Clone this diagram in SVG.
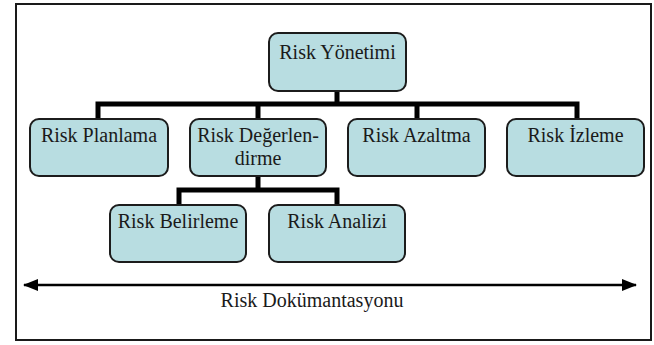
<svg xmlns="http://www.w3.org/2000/svg" width="654" height="345" viewBox="0 0 654 345">
  <style>
    .box { fill: #b8dde1; stroke: #1c1c1c; stroke-width: 2; }
    .lbl { font-family: "Liberation Serif", "Times New Roman", serif; font-size: 20px; fill: #1a1a1a; text-anchor: middle; }
    .bar { fill: none; stroke: #000; stroke-width: 5; stroke-linecap: butt; }
    .frame { fill: #fff; stroke: #1a1a1a; stroke-width: 2; }
  </style>
  <defs>
    <marker id="head" viewBox="0 0 15 12" refX="14" refY="6" markerWidth="15" markerHeight="12" markerUnits="userSpaceOnUse" orient="auto-start-reverse">
      <path d="M0,0 L15,6 L0,12 Z" fill="#000"/>
    </marker>
  </defs>

  <rect class="frame" x="16" y="4" width="635" height="336"/>

  <!-- tree connectors -->
  <g id="connectors">
    <path class="bar" d="M337,91 V104 M98,120 V104 H577 V120 M258,104 V120 M417,104 V120"/>
    <path class="bar" d="M258,176 V190 M179,206 V190 H337 V206"/>
    <line x1="24" y1="285" x2="636" y2="285" stroke="#000" stroke-width="2.5" marker-start="url(#head)" marker-end="url(#head)"/>
  </g>

  <g id="risk-yonetimi">
    <rect class="box" x="269" y="33" width="137" height="58" rx="9"/>
    <text class="lbl" x="337.5" y="59">Risk Yönetimi</text>
  </g>
  <g id="risk-planlama">
    <rect class="box" x="30" y="119" width="138" height="57" rx="9"/>
    <text class="lbl" x="99" y="142">Risk Planlama</text>
  </g>
  <g id="risk-degerlendirme">
    <rect class="box" x="190" y="119" width="136" height="57" rx="9"/>
    <text class="lbl" x="258" y="142">Risk Değerlen-</text>
    <text class="lbl" x="258" y="165">dirme</text>
  </g>
  <g id="risk-azaltma">
    <rect class="box" x="348" y="119" width="137" height="57" rx="9"/>
    <text class="lbl" x="416.5" y="142">Risk Azaltma</text>
  </g>
  <g id="risk-izleme">
    <rect class="box" x="507" y="119" width="137" height="57" rx="9"/>
    <text class="lbl" x="575.5" y="142">Risk İzleme</text>
  </g>
  <g id="risk-belirleme">
    <rect class="box" x="110" y="205" width="136" height="57" rx="9"/>
    <text class="lbl" x="178" y="228">Risk Belirleme</text>
  </g>
  <g id="risk-analizi">
    <rect class="box" x="269" y="205" width="136" height="57" rx="9"/>
    <text class="lbl" x="337" y="228">Risk Analizi</text>
  </g>
  <g id="risk-dokumantasyonu">
    <text class="lbl" x="312" y="307">Risk Dokümantasyonu</text>
  </g>
</svg>
